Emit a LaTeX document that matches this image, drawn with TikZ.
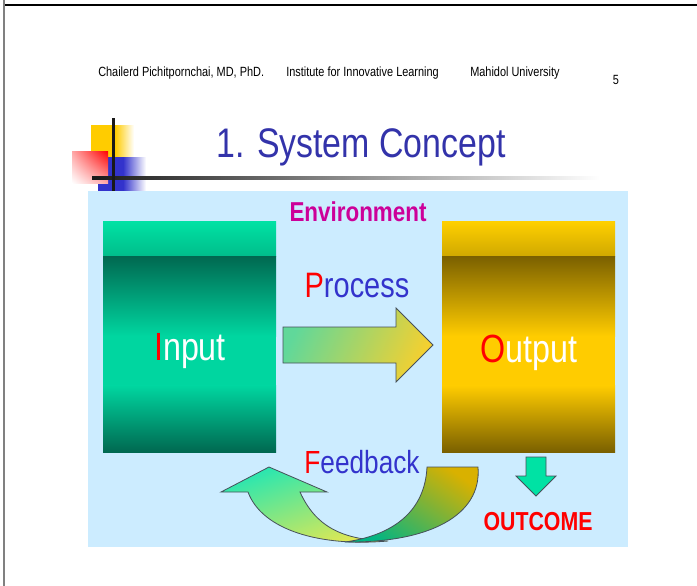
\documentclass[tikz,border=0pt]{standalone}
\usepackage{fontspec}
\usepackage{tikz}
\usetikzlibrary{shadings}
\newfontfamily\slidefont[FakeStretch=0.82]{Liberation Sans}

\definecolor{skyback}{RGB}{204,236,255}
\definecolor{titleblue}{RGB}{51,51,170}
\definecolor{textblue}{RGB}{51,51,204}
\definecolor{envmagenta}{RGB}{204,0,153}
\definecolor{ingreen}{RGB}{0,226,164}
\definecolor{inbright}{RGB}{0,214,160}
\definecolor{indark}{RGB}{0,104,80}
\definecolor{outgold}{RGB}{255,208,0}
\definecolor{outbright}{RGB}{255,204,0}
\definecolor{outdark}{RGB}{122,96,0}
\definecolor{procgreen}{RGB}{96,216,154}
\definecolor{procyellow}{RGB}{244,208,48}
\definecolor{arrowedge}{RGB}{70,80,90}
\definecolor{logoyellow}{RGB}{255,204,0}
\definecolor{logoblue}{RGB}{51,51,204}

\begin{document}
\begin{tikzpicture}[x=0.75pt,y=-0.75pt,font=\slidefont,
  label/.style={anchor=base,inner sep=0pt},
  edge/.style={draw=arrowedge,line width=0.6pt,line join=miter}]
\useasboundingbox (0,0) rectangle (697,586);

% Frame
\draw [line width=1.2pt] (4,5) -- (697,5);
\draw [gray,line width=1.5pt] (3.5,0) -- (3.5,586);

% Header
\node [label,anchor=base west] (author) at (98,76) {\fontsize{10}{12}\selectfont Chailerd Pichitpornchai, MD, PhD.};
\node [label,anchor=base west] (inst) at (286,76) {\fontsize{10}{12}\selectfont Institute for Innovative Learning};
\node [label,anchor=base west] (univ) at (470,76) {\fontsize{10}{12}\selectfont Mahidol University};
\node [label] (page) at (616,84) {\fontsize{10}{12}\selectfont 5};

% Logo
\fill [logoyellow] (91,125) rectangle (116,157);
\shade [left color=logoyellow,right color=white] (115,125) rectangle (134,157);
\fill [logoblue] (98,157) rectangle (124,191);
\shade [left color=logoblue,right color=white] (123,157) rectangle (146,191);
\shade [upper right=red,upper left=red!35,lower right=red!35,lower left=white] (72,151) rectangle (108,183);
\shade [left color=black!90,right color=white] (92,176) rectangle (600,179);
\fill [black!90] (111.5,118) rectangle (114.5,191);

% Title
\node [label,text=titleblue] (title) at (361,157) {\fontsize{31}{36}\selectfont 1. System Concept};

% Environment
\fill [skyback] (88,191) rectangle (628,547);
\node [label,text=envmagenta] (env) at (358,221) {\fontsize{20.5}{24}\selectfont\bfseries Environment};

% Input box
\shade [top color=ingreen,bottom color=ingreen!70!indark] (103,221) rectangle (276,256);
\shade [top color=indark,bottom color=inbright] (103,256) rectangle (276,336);
\fill [inbright] (103,335.5) rectangle (276,386);
\shade [top color=inbright,bottom color=indark] (103,385.5) rectangle (276,452);
\node [label,text=white] (input) at (190,360) {\fontsize{29.5}{34}\selectfont\textcolor{red}{I}nput};

% Output box
\shade [top color=outgold,bottom color=outgold!65!outdark] (442,221) rectangle (615,256);
\shade [top color=outdark,bottom color=outbright] (442,256) rectangle (615,336);
\fill [outbright] (442,335.5) rectangle (615,386);
\shade [top color=outbright,bottom color=outdark] (442,385.5) rectangle (615,452);
\node [label,text=white] (output) at (529,362) {\fontsize{29.5}{34}\selectfont\textcolor{red}{O}utput};

% Process
\node [label,text=textblue] (process) at (357,297) {\fontsize{26.5}{30}\selectfont\textcolor{red}{P}rocess};
\shade [edge,left color=procgreen,right color=procyellow,shading angle=65]
  (283,327) -- (396,327) -- (396,308) -- (433,345) -- (396,382) -- (396,363) -- (283,363) -- cycle;

% Feedback
\node [label,text=textblue] (feedback) at (362,473) {\fontsize{24}{28}\selectfont\textcolor{red}{F}eedback};
\shade [edge,top color=ingreen!85!white,bottom color=yellow!70!olive!60!white,shading angle=20]
  (269,467) -- (327,492) -- (300,492) .. controls (315,525) and (340,540) .. (388,541)
  .. controls (320,547) and (262,530) .. (248,492) -- (221,492) -- cycle;
\shade [edge,top color=outgold!85!black,bottom color=ingreen!80!black,shading angle=-35]
  (427,467) -- (478,467) .. controls (482,515) and (430,543) .. (345,542)
  .. controls (395,535) and (425,510) .. (427,467) -- cycle;

% Outcome
\draw [edge,fill=ingreen] (526,457) -- (546,457) -- (546,476) -- (556,476) -- (536,496) -- (516,476) -- (526,476) -- cycle;
\node [label,text=red] (outcome) at (538,530) {\fontsize{19.5}{23}\selectfont\bfseries OUTCOME};

\end{tikzpicture}
\end{document}
